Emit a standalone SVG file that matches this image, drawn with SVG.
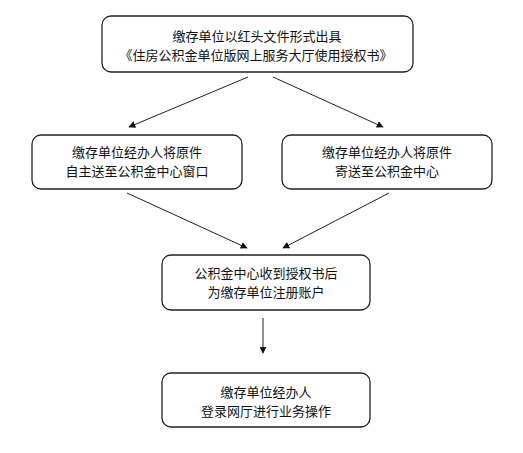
<svg xmlns="http://www.w3.org/2000/svg" width="523" height="453" viewBox="0 0 523 453">
<style>
.box{fill:#fff;stroke:#222;stroke-width:1.3}
.t{font-family:"Noto Sans CJK SC","Liberation Sans",sans-serif;font-size:13px;fill:#111;text-anchor:middle}
.c{stroke:#222;stroke-width:1;fill:none;marker-end:url(#ah)}
</style>
<defs>
<marker id="ah" viewBox="0 0 10 10" refX="9" refY="5" markerWidth="7" markerHeight="7" markerUnits="userSpaceOnUse" orient="auto">
<path d="M0,0 L10,5 L0,10 z" fill="#111"/>
</marker>
</defs>
<rect width="523" height="453" fill="#fff"/>
<g id="connectors">
<line class="c" x1="248" y1="77" x2="129" y2="127"/>
<line class="c" x1="273" y1="77" x2="383" y2="127"/>
<line class="c" x1="127" y1="193" x2="247" y2="248"/>
<line class="c" x1="389" y1="193" x2="283" y2="248"/>
<line class="c" x1="263" y1="318" x2="263" y2="353"/>
</g>
<g id="n1">
<rect class="box" x="102" y="16" width="311" height="56" rx="9"/>
<text class="t" x="257" y="40.5">缴存单位以红头文件形式出具</text>
<text class="t" x="256" y="59.5">《住房公积金单位版网上服务大厅使用授权书》</text>
</g>
<g id="n2">
<rect class="box" x="32" y="135" width="210" height="54" rx="9"/>
<text class="t" x="137" y="157">缴存单位经办人将原件</text>
<text class="t" x="137" y="176">自主送至公积金中心窗口</text>
</g>
<g id="n3">
<rect class="box" x="282" y="135" width="210" height="54" rx="9"/>
<text class="t" x="387" y="157">缴存单位经办人将原件</text>
<text class="t" x="387" y="176">寄送至公积金中心</text>
</g>
<g id="n4">
<rect class="box" x="162" y="255" width="208" height="55" rx="9"/>
<text class="t" x="266" y="278">公积金中心收到授权书后</text>
<text class="t" x="266" y="297">为缴存单位注册账户</text>
</g>
<g id="n5">
<rect class="box" x="162" y="373" width="208" height="54" rx="9"/>
<text class="t" x="266" y="396.5">缴存单位经办人</text>
<text class="t" x="266" y="415.5">登录网厅进行业务操作</text>
</g>
</svg>
